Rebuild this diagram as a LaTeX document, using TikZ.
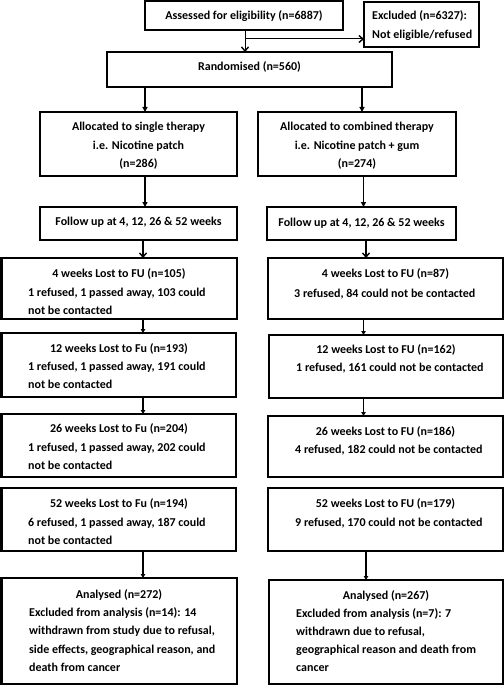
\documentclass[tikz,border=0pt]{standalone}
\usepackage{fontspec}
\setmainfont{Carlito}[BoldFont={Carlito Bold}]
\usetikzlibrary{arrows.meta}
\tikzset{
  box/.style={draw, line width=2bp, inner sep=0pt, outer sep=0pt},
  ttl/.style={font=\bfseries\fontsize{12bp}{18.3bp}\selectfont, inner sep=0pt, anchor=base},
  body/.style={font=\bfseries\fontsize{12bp}{18.3bp}\selectfont, inner sep=0pt, anchor=base west, align=left},
  arrV/.style={line width=1.4bp, -{Straight Barb[length=4bp,width=7bp,line width=1.4bp]}},
  arrT/.style={line width=1.3bp, -{Triangle[length=4bp,width=4.5bp]}},
}
\newcommand\mybox[5]{\node[box, minimum width={(#4-#2)*1bp}, minimum height={(#5-#3)*1bp}] (#1) at ({(#2+#4)/2},{(#3+#5)/2}) {};}
\begin{document}
\begin{tikzpicture}[x=1bp, y=-1bp]
\useasboundingbox (0,0) rectangle (504,685);
% boxes
\mybox{assess}{145}{1.5}{343}{30}
\mybox{excl}{364}{2.5}{479}{47}
\mybox{rand}{107}{52}{392}{87}
\mybox{allocL}{40}{112}{237}{176}
\mybox{allocR}{258}{112}{456}{176}
\mybox{fuL}{40}{207}{237}{240}
\mybox{fuR}{267}{207}{456}{240}
\mybox{wAL}{1.5}{258}{237}{319}
\mybox{wAR}{268}{258}{502.5}{319}
\mybox{wBL}{1.5}{333}{236}{397}
\mybox{wBR}{269}{335}{502.5}{398}
\mybox{wCL}{1.5}{414}{236}{477}
\mybox{wCR}{268}{416}{502.5}{477}
\mybox{wDL}{1.5}{488}{236}{551}
\mybox{wDR}{268}{488}{502.5}{551}
\mybox{anL}{1.5}{578}{237}{683.5}
\mybox{anR}{269}{580}{502.5}{683.5}
% texts (base anchor of a multi-line node = baseline of its last line)
\node[ttl] (tAssess) at (244,20) {Assessed for eligibility (n=6887)};
\node[body] (tExcl) at (372,38.3) {Excluded (n=6327):\\Not eligible/refused};
\node[ttl] (tRand) at (249.5,71) {Randomised (n=560)};
\node[ttl, align=center] (tAllocL) at (138.5,167.6) {Allocated to single therapy\\i.e. Nicotine patch\\(n=286)};
\node[ttl, align=center] (tAllocR) at (357,167.6) {Allocated to combined therapy\\i.e. Nicotine patch + gum\\(n=274)};
\node[ttl] (tFuL) at (138.5,225) {Follow up at 4, 12, 26 \& 52 weeks};
\node[ttl] (tFuR) at (361.5,226) {Follow up at 4, 12, 26 \& 52 weeks};
\node[ttl] (tAL) at (119,277.5) {4 weeks Lost to FU (n=105)};
\node[body] (bAL) at (28,314.3) {1 refused, 1 passed away, 103 could\\not be contacted};
\node[ttl] (tAR) at (385.5,277.5) {4 weeks Lost to FU (n=87)};
\node[body] (bAR) at (294,297) {3 refused, 84 could not be contacted};
\node[ttl] (tBL) at (119,352.5) {12 weeks Lost to Fu (n=193)};
\node[body] (bBL) at (28,388.8) {1 refused, 1 passed away, 191 could\\not be contacted};
\node[ttl] (tBR) at (386,353) {12 weeks Lost to FU (n=162)};
\node[body] (bBR) at (296,371.5) {1 refused, 161 could not be contacted};
\node[ttl] (tCL) at (119,432.5) {26 weeks Lost to Fu (n=204)};
\node[body] (bCL) at (28,469.3) {1 refused, 1 passed away, 202 could\\not be contacted};
\node[ttl] (tCR) at (385.5,435) {26 weeks Lost to FU (n=186)};
\node[body] (bCR) at (295,453) {4 refused, 182 could not be contacted};
\node[ttl] (tDL) at (119,507.5) {52 weeks Lost to Fu (n=194)};
\node[body] (bDL) at (28,544.3) {6 refused, 1 passed away, 187 could\\not be contacted};
\node[ttl] (tDR) at (385.5,507.5) {52 weeks Lost to FU (n=179)};
\node[body] (bDR) at (295,526) {9 refused, 170 could not be contacted};
\node[ttl] (tanL) at (119,598) {Analysed (n=272)};
\node[body] (banL) at (29,671.4) {Excluded from analysis (n=14): 14\\withdrawn from study due to refusal,\\side effects, geographical reason, and\\death from cancer};
\node[ttl] (tanR) at (386,599) {Analysed (n=267)};
\node[body] (banR) at (296,671.9) {Excluded from analysis (n=7): 7\\withdrawn due to refusal,\\geographical reason and death from\\cancer};
% connector x positions
\coordinate (c0) at (245,39);
\coordinate (cL1) at (145,0);
\coordinate (cR1) at (362,0);
\coordinate (cL2) at (143,0);
\coordinate (cR2) at (363.5,0);
\coordinate (cR3) at (366,0);
% arrows
\draw[arrV, line width=1bp] (assess.south -| c0) -- (rand.north -| c0);
\draw[arrV, line width=1bp] (c0) -- (c0 -| excl.west);
\draw[arrT, line width=1.6bp, -{Triangle[length=5bp,width=5bp]}] (rand.south -| cL1) -- (allocL.north -| cL1);
\draw[arrT, line width=1.6bp, -{Triangle[length=5bp,width=5bp]}] (rand.south -| cR1) -- (allocR.north -| cR1);
\draw[arrT, line width=1.6bp, -{Triangle[length=5bp,width=5bp]}] (allocL.south -| cL1) -- (fuL.north -| cL1);
\draw[arrT, line width=1.6bp, -{Triangle[length=5bp,width=5bp]}] (allocR.south -| cR2) -- (fuR.north -| cR2);
\draw[arrV] (fuL.south -| cL2) -- (wAL.north -| cL2);
\draw[arrV] (fuR.south -| cR3) -- (wAR.north -| cR3);
\draw[arrT] (wAL.south -| cL2) -- (wBL.north -| cL2);
\draw[arrT] (wAR.south -| cR2) -- (wBR.north -| cR2);
\draw[arrT] (wBL.south -| cL2) -- (wCL.north -| cL2);
\draw[arrT] (wBR.south -| cR2) -- (wCR.north -| cR2);
\draw[arrT] (wDL.south -| cL2) -- (anL.north -| cL2);
\draw[arrT] (wDR.south -| cR3) -- (anR.north -| cR3);
\end{tikzpicture}
\end{document}
